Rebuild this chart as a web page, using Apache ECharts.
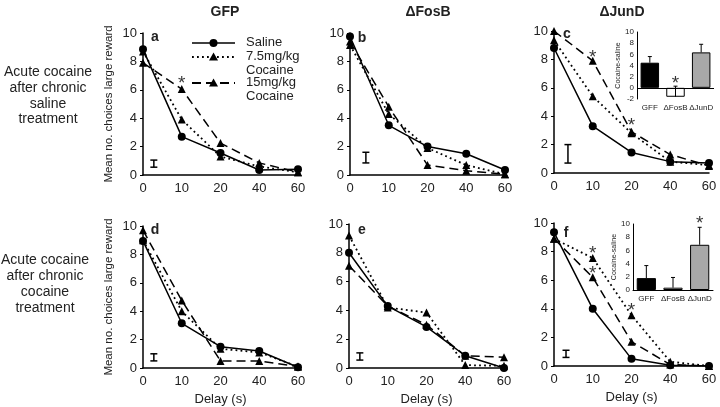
<!DOCTYPE html>
<html>
<head>
<meta charset="utf-8">
<script src="https://cdn.jsdelivr.net/npm/echarts@6/dist/echarts.min.js"></script>
<style>
  html, body { margin: 0; padding: 0; background: #fff; }
  #main { width: 720px; height: 407px; }
</style>
</head>
<body>
<div id="main"></div>
<script>
var FONT = 'Liberation Sans, Arial, sans-serif';

// x 轴标签（等间距）
var delays = ['0', '10', '20', '40', '60'];
var columnTitles = ['GFP', 'ΔFosB', 'ΔJunD'];
var panelLetters = ['a', 'b', 'c', 'd', 'e', 'f'];

// 每个面板 a..f 的数值
var saline = [
    [8.85, 2.7, 1.55, 0.35, 0.4],
    [9.75, 3.5, 2.0, 1.5, 0.35],
    [8.8, 3.3, 1.45, 0.8, 0.7],
    [8.95, 3.15, 1.5, 1.2, 0.05],
    [8.0, 4.3, 2.85, 0.85, 0.0],
    [9.35, 4.0, 0.5, 0.05, 0.0]
];
var cocaine75 = [
    [8.7, 3.9, 1.3, 0.6, 0.2],
    [9.15, 4.3, 1.9, 0.7, 0.05],
    [9.35, 5.4, 2.8, 0.8, 0.55],
    [9.0, 4.0, 1.35, 1.1, 0.1],
    [9.2, 4.2, 3.85, 0.2, 0.15],
    [8.9, 7.55, 3.55, 0.3, 0.0]
];
var cocaine15 = [
    [7.9, 6.05, 2.25, 0.85, 0.2],
    [9.4, 4.8, 0.7, 0.3, 0.05],
    [10.0, 7.9, 2.9, 1.3, 0.5],
    [9.7, 4.75, 0.5, 0.5, 0.1],
    [7.1, 4.3, 3.0, 0.85, 0.75],
    [8.9, 6.2, 1.7, 0.1, 0.0]
];
// 代表性误差线 [x位置(索引), 下, 上]
var semBars = [
    [0.28, 0.55, 1.05],
    [0.41, 0.85, 1.6],
    [0.36, 0.7, 2.0],
    [0.28, 0.5, 1.0],
    [0.28, 0.55, 1.05],
    [0.31, 0.6, 1.1]
];
// 星号位置
var stars = [
    [[1, 6.8]],
    [],
    [[1, 8.5], [2, 3.7]],
    [],
    [],
    [[1, 8.2], [1, 6.85], [2, 4.2]]
];

// 小图 (cocaine - saline)
var insetCats = ['GFF', 'ΔFosB', 'ΔJunD'];
var insetC = [4.5, -1.6, 6.35];
var insetCErr = [5.6, 0.3, 7.8];
var insetCStar = [[1, 1.6]];
var insetF = [1.8, 0.35, 6.85];
var insetFErr = [3.7, 1.9, 9.5];
var insetFStar = [[2, 10.9]];
var insetColors = ['#000', '#fff', '#a8a8a8'];

var gridPos = [
    {left: 143, top: 33, width: 155, height: 142},
    {left: 350, top: 33, width: 155, height: 142},
    {left: 554, top: 31, width: 155, height: 142},
    {left: 143, top: 226, width: 155, height: 143},
    {left: 349, top: 224, width: 155, height: 144},
    {left: 554, top: 223, width: 155, height: 143},
    {left: 637, top: 32, width: 77, height: 67},
    {left: 633, top: 224, width: 80, height: 66}
];

var chart = echarts.init(document.getElementById('main'));

var grids = [], xAxes = [], yAxes = [], series = [];

function errRender(params, api) {
    var p1 = api.coord([api.value(0), api.value(1)]);
    var p2 = api.coord([api.value(0), api.value(2)]);
    var st = {stroke: '#000', lineWidth: 1.5};
    return {
        type: 'group',
        children: [
            {type: 'line', shape: {x1: p1[0], y1: p1[1], x2: p2[0], y2: p2[1]}, style: st},
            {type: 'line', shape: {x1: p1[0] - 3.5, y1: p1[1], x2: p1[0] + 3.5, y2: p1[1]}, style: st},
            {type: 'line', shape: {x1: p2[0] - 3.5, y1: p2[1], x2: p2[0] + 3.5, y2: p2[1]}, style: st}
        ]
    };
}
function insetErrRender(params, api) {
    var p1 = api.coord([api.value(0), api.value(1)]);
    var p2 = api.coord([api.value(0), api.value(2)]);
    var st = {stroke: '#000', lineWidth: 1};
    return {
        type: 'group',
        children: [
            {type: 'line', shape: {x1: p1[0], y1: p1[1], x2: p2[0], y2: p2[1]}, style: st},
            {type: 'line', shape: {x1: p2[0] - 2, y1: p2[1], x2: p2[0] + 2, y2: p2[1]}, style: st}
        ]
    };
}
function starSeries(idx, data, size) {
    return {
        type: 'scatter', xAxisIndex: idx, yAxisIndex: idx, data: data,
        symbolSize: 1, clip: false, silent: true, z: 10,
        itemStyle: {color: 'rgba(0,0,0,0)'},
        label: {show: true, formatter: '*', position: 'inside', offset: [0, size * 0.28],
            fontSize: size, fontFamily: FONT, color: '#000'}
    };
}
function toXY(arr) {
    return arr.map(function (v, i) { return [i, v]; });
}

for (var i = 0; i < 6; i++) {
    grids.push(gridPos[i]);
    var bottomRow = i >= 3;
    xAxes.push({
        gridIndex: i, type: 'value', min: 0, max: 4, interval: 1,
        name: bottomRow ? 'Delay (s)' : '', nameLocation: 'middle', nameGap: 25,
        nameTextStyle: {fontSize: 13, fontFamily: FONT, color: '#222'},
        axisLine: {show: true, lineStyle: {color: '#000', width: 1.5}},
        axisTick: {show: false},
        splitLine: {show: false},
        axisLabel: {fontSize: 13, fontFamily: FONT, color: '#222', margin: 7,
            formatter: function (v) { return delays[v]; }}
    });
    yAxes.push({
        gridIndex: i, type: 'value', min: 0, max: 10, interval: 2,
        name: (i % 3 === 0) ? 'Mean no. choices large reward' : '',
        nameLocation: 'middle', nameGap: 28,
        nameTextStyle: {fontSize: 11.5, fontFamily: FONT, color: '#222'},
        axisLine: {show: true, lineStyle: {color: '#000', width: 1.5}},
        axisTick: {show: true, length: 3, lineStyle: {color: '#000'}},
        splitLine: {show: false},
        axisLabel: {fontSize: 13, fontFamily: FONT, color: '#222', margin: 6}
    });
    series.push({
        type: 'line', xAxisIndex: i, yAxisIndex: i, data: toXY(cocaine15[i]),
        symbol: 'triangle', symbolSize: 8, z: 3,
        lineStyle: {color: '#000', width: 1.5, type: [9, 5]},
        itemStyle: {color: '#000'}
    });
    series.push({
        type: 'line', xAxisIndex: i, yAxisIndex: i, data: toXY(cocaine75[i]),
        symbol: 'triangle', symbolSize: 8, z: 3,
        lineStyle: {color: '#000', width: 1.8, type: [1.8, 3.2]},
        itemStyle: {color: '#000'}
    });
    series.push({
        type: 'line', xAxisIndex: i, yAxisIndex: i, data: toXY(saline[i]),
        symbol: 'circle', symbolSize: 8, z: 4,
        lineStyle: {color: '#000', width: 1.5},
        itemStyle: {color: '#000'}
    });
    series.push({
        type: 'custom', xAxisIndex: i, yAxisIndex: i, data: [semBars[i]],
        renderItem: errRender, silent: true, z: 5
    });
    if (stars[i].length) series.push(starSeries(i, stars[i], 19));
}

// 小图
var insets = [
    {idx: 6, vals: insetC, err: insetCErr, star: insetCStar, min: -2},
    {idx: 7, vals: insetF, err: insetFErr, star: insetFStar, min: 0}
];
insets.forEach(function (s) {
    grids.push(gridPos[s.idx]);
    xAxes.push({
        gridIndex: s.idx, type: 'category', data: insetCats,
        axisLine: {show: s.min === 0, onZero: false, lineStyle: {color: '#000', width: 1}},
        axisTick: {show: false},
        axisLabel: {fontSize: 8, fontFamily: FONT, color: '#222', margin: 5, interval: 0}
    });
    yAxes.push({
        gridIndex: s.idx, type: 'value', min: s.min, max: 10, interval: 2,
        name: 'Cocaine-saline', nameLocation: 'middle', nameGap: 14,
        nameTextStyle: {fontSize: 7, fontFamily: FONT, color: '#222'},
        axisLine: {show: true, lineStyle: {color: '#000', width: 1}},
        axisTick: {show: false},
        splitLine: {show: false},
        axisLabel: {fontSize: 8, fontFamily: FONT, color: '#222', margin: 3}
    });
    series.push({
        type: 'bar', xAxisIndex: s.idx, yAxisIndex: s.idx, barWidth: '72%',
        data: s.vals.map(function (v, k) {
            return {value: v, itemStyle: {color: insetColors[k]}};
        }),
        itemStyle: {borderColor: '#000', borderWidth: 1},
        markLine: s.min < 0 ? {
            silent: true, symbol: ['none', 'none'], label: {show: false},
            lineStyle: {color: '#000', width: 1, type: 'solid'},
            data: [{yAxis: 0}]
        } : undefined
    });
    series.push({
        type: 'custom', xAxisIndex: s.idx, yAxisIndex: s.idx, silent: true, z: 6,
        data: s.vals.map(function (v, k) { return [k, v, s.err[k]]; }),
        renderItem: insetErrRender
    });
    series.push(starSeries(s.idx, s.star, 19));
});

// 文字、图例
var graphic = [];
var colCenters = [225, 428, 622];
columnTitles.forEach(function (t, k) {
    graphic.push({type: 'text', x: colCenters[k], y: 12, style: {text: t, fontSize: 14, fontWeight: 'bold',
        fontFamily: FONT, fill: '#222', align: 'center', verticalAlign: 'middle'}});
});
var letterPos = [[155, 37], [362, 38], [567, 34], [155, 230], [362, 230], [566, 233]];
panelLetters.forEach(function (t, k) {
    graphic.push({type: 'text', x: letterPos[k][0], y: letterPos[k][1], style: {text: t, fontSize: 14,
        fontWeight: 'bold', fontFamily: FONT, fill: '#222', align: 'center', verticalAlign: 'middle'}});
});
graphic.push({type: 'text', x: 48, y: 96, style: {text: 'Acute cocaine\nafter chronic\nsaline\ntreatment',
    fontSize: 14, lineHeight: 15.7, fontFamily: FONT, fill: '#222', align: 'center', verticalAlign: 'middle'}});
graphic.push({type: 'text', x: 45, y: 284, style: {text: 'Acute cocaine\nafter chronic\ncocaine\ntreatment',
    fontSize: 14, lineHeight: 16, fontFamily: FONT, fill: '#222', align: 'center', verticalAlign: 'middle'}});

var legendRows = [
    {y: 43, dash: null, sym: 'circle', text: 'Saline'},
    {y: 57, dash: [1.8, 3.2], sym: 'tri', text: '7.5mg/kg\nCocaine'},
    {y: 83, dash: [9, 5], sym: 'tri', text: '15mg/kg\nCocaine'}
];
legendRows.forEach(function (r) {
    graphic.push({type: 'line', shape: {x1: 192, y1: r.y, x2: 235, y2: r.y},
        style: {stroke: '#000', lineWidth: r.dash ? 1.8 : 1.5, lineDash: r.dash}});
    if (r.sym === 'circle') {
        graphic.push({type: 'circle', shape: {cx: 213.5, cy: r.y, r: 4}, style: {fill: '#000'}});
    } else {
        graphic.push({type: 'polygon', shape: {points: [[213.5, r.y - 4.5], [209, r.y + 3.5], [218, r.y + 3.5]]},
            style: {fill: '#000'}});
    }
    graphic.push({type: 'text', x: 246, y: r.y - 7, style: {text: r.text, fontSize: 13, lineHeight: 13.5,
        fontFamily: FONT, fill: '#222', verticalAlign: 'top'}});
});

chart.setOption({
    animation: false,
    backgroundColor: '#fff',
    grid: grids,
    xAxis: xAxes,
    yAxis: yAxes,
    series: series,
    graphic: graphic
});
</script>
</body>
</html>
